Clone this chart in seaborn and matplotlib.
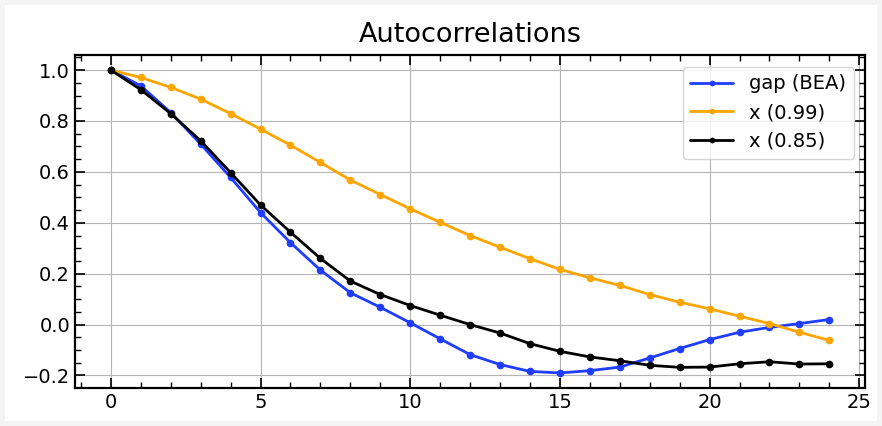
import numpy as np
import pandas as pd
import seaborn as sns
import matplotlib.pyplot as plt
from matplotlib.ticker import MultipleLocator

lags = list(range(25))
gap_bea = [1.0, 0.938, 0.833, 0.709, 0.578, 0.44, 0.322, 0.214, 0.125, 0.068, 0.007,
           -0.056, -0.118, -0.157, -0.184, -0.19, -0.181, -0.167, -0.131, -0.094,
           -0.059, -0.030, -0.011, 0.004, 0.020]
x_099 = [1.0, 0.971, 0.932, 0.886, 0.829, 0.768, 0.705, 0.637, 0.568, 0.511, 0.455,
         0.402, 0.350, 0.304, 0.259, 0.217, 0.184, 0.154, 0.118, 0.088, 0.062,
         0.033, 0.004, -0.030, -0.062]
x_085 = [1.0, 0.923, 0.829, 0.722, 0.597, 0.470, 0.363, 0.260, 0.171, 0.118, 0.075,
         0.037, 0.0, -0.033, -0.075, -0.105, -0.127, -0.142, -0.160, -0.168, -0.167,
         -0.154, -0.146, -0.155, -0.154]
labels = ["gap (BEA)", "x (0.99)", "x (0.85)"]
colors = ["#1f3cff", "orange", "black"]

df = pd.concat([
    pd.DataFrame({"lag": lags, "acf": vals, "series": lab})
    for vals, lab in zip([gap_bea, x_099, x_085], labels)
])

sns.set_style("white")
plt.rcParams["font.family"] = ["DejaVu Sans"]
plt.rcParams["text.color"] = "black"
plt.rcParams["xtick.color"] = "black"
plt.rcParams["ytick.color"] = "black"

fig, ax = plt.subplots(figsize=(8.82, 4.26), dpi=100)
fig.patch.set_edgecolor("#f4f4f4")
fig.patch.set_linewidth(7)

sns.lineplot(data=df, x="lag", y="acf", hue="series", hue_order=labels,
             palette=colors, marker="o", markersize=5.5, markeredgewidth=0,
             linewidth=2, ax=ax)

ax.set_title("Autocorrelations", fontsize=19.5, pad=9, color="black")
ax.set_xlabel("")
ax.set_ylabel("")
ax.xaxis.set_major_locator(MultipleLocator(5))
ax.xaxis.set_minor_locator(MultipleLocator(1))
ax.yaxis.set_major_locator(MultipleLocator(0.2))
ax.yaxis.set_minor_locator(MultipleLocator(0.05))
ax.tick_params(which="both", direction="in", top=True, right=True,
               bottom=True, left=True, labelsize=14)
ax.tick_params(which="major", length=7, width=1.2)
ax.tick_params(which="minor", length=4, width=1)
ax.grid(True, which="major", color="#b5b5b5", linewidth=0.8)
for s in ax.spines.values():
    s.set_linewidth(1.6)
    s.set_color("black")

leg = ax.legend(loc="upper right", fontsize=14, title=None, frameon=True,
                handlelength=2.2, markerscale=0.75, borderaxespad=0.6)
for t in leg.get_texts():
    t.set_color("black")

fig.subplots_adjust(left=0.085, right=0.981, top=0.871, bottom=0.089)
fig.savefig("out.png", dpi=100)
